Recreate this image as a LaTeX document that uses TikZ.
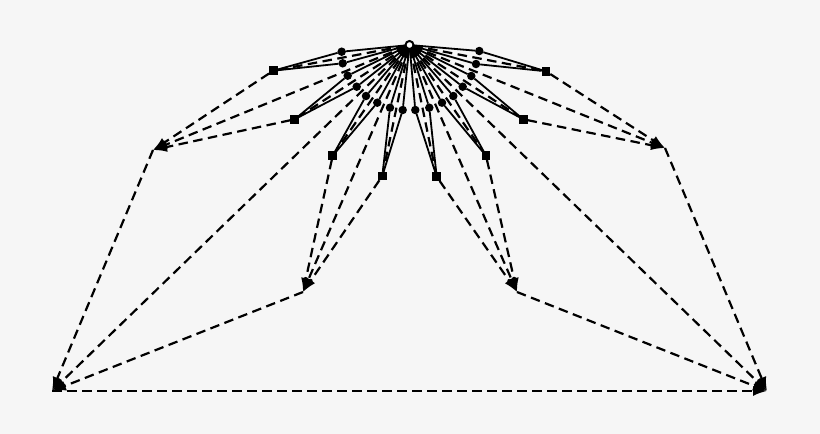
\documentclass[tikz,border=0pt]{standalone}
\usetikzlibrary{arrows.meta}
\definecolor{paper}{RGB}{246,246,246}

\begin{document}
\begin{tikzpicture}
  [x=1pt,y=-1pt,>={Latex[length=14pt,width=10pt]},
   every node/.style={inner sep=0pt,outer sep=0pt},
   dot/.style={circle,fill=black,minimum size=8.5pt},
   box/.style={rectangle,fill=black,minimum size=8.5pt},
   top/.style={circle,draw=black,fill=white,line width=2pt,minimum size=8pt},
   link/.style={line width=1.8pt},
   hop/.style={line width=2.2pt,dash pattern=on 9.5pt off 5.5pt}]
  \fill[paper] (0,0) rectangle (820,434);
  \useasboundingbox (0,0) rectangle (820,434);

  \node[top] (r) at (409.5,45) {};

  \node[dot] (c1) at (341.7,51.7) {};
  \node[dot] (c2) at (342.7,63.3) {};
  \node[dot] (c3) at (347.7,75.7) {};
  \node[dot] (c4) at (356.7,86.7) {};
  \node[dot] (c5) at (366,96) {};
  \node[dot] (c6) at (377.3,102.7) {};
  \node[dot] (c7) at (390,107.7) {};
  \node[dot] (c8) at (402.7,110) {};
  \node[dot] (c9) at (415.3,110) {};
  \node[dot] (c10) at (429.3,107.7) {};
  \node[dot] (c11) at (442,102.7) {};
  \node[dot] (c12) at (453.3,96) {};
  \node[dot] (c13) at (462.7,86.7) {};
  \node[dot] (c14) at (471.3,76) {};
  \node[dot] (c15) at (476,64) {};
  \node[dot] (c16) at (479.3,51) {};

  \node[box] (s1) at (273.3,70.7) {};
  \node[box] (s2) at (294.7,119.3) {};
  \node[box] (s3) at (332.7,155.7) {};
  \node[box] (s4) at (382.3,176) {};
  \node[box] (s5) at (436.7,176.7) {};
  \node[box] (s6) at (486,155.7) {};
  \node[box] (s7) at (523.3,119.3) {};
  \node[box] (s8) at (546,71.3) {};

  \coordinate (t1) at (153,150);
  \coordinate (t2) at (303,292);
  \coordinate (t3) at (517,292);
  \coordinate (t4) at (665,148);
  \coordinate (b1) at (52,391);
  \coordinate (b2) at (767,391);

  \foreach \to in {c1,c2,c3,c4,c5,c6,c7,c8,c9,c10,c11,c12,c13,c14,c15,c16}
    \draw[link] (r) -- (\to);
  \foreach \from/\to in {c1/s1,c2/s1,c3/s2,c4/s2,c5/s3,c6/s3,c7/s4,c8/s4,c9/s5,c10/s5,c11/s6,c12/s6,c13/s7,c14/s7,c15/s8,c16/s8}
    \draw[link] (\from) -- (\to);
  \foreach \to in {s1,s2,s3,s4,s5,s6,s7,s8}
    \draw[hop] (r) -- (\to);
  \foreach \from/\to in {s1/t1,s2/t1,r/t1,s3/t2,s4/t2,r/t2,s5/t3,s6/t3,r/t3,s7/t4,s8/t4,r/t4,t1/b1,t2/b1,r/b1,t3/b2,t4/b2,r/b2,b1/b2}
    \draw[hop,->] (\from) -- (\to);
\end{tikzpicture}
\end{document}
